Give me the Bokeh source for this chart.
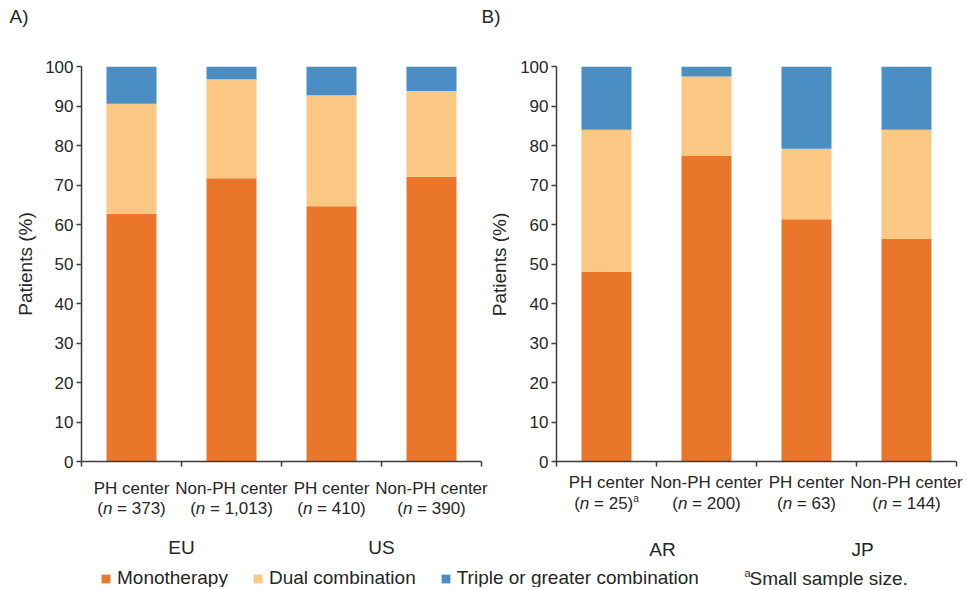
import math
from bokeh.plotting import figure
from bokeh.models import ColumnDataSource, Range1d, FixedTicker, Legend, LegendItem
from bokeh.layouts import row, column
from bokeh.core.properties import value, field
from bokeh.embed import file_html
from bokeh.resources import INLINE

# ---------------- data ----------------
series_names = ["Monotherapy", "Dual combination", "Triple or greater combination"]
stackers = ["mono", "dual", "triple"]

left_centers = ["PH center", "Non-PH center", "PH center", "Non-PH center"]
left_n = ["373", "1,013", "410", "390"]
left_notes = ["", "", "", ""]
left_regions = ["EU", "US"]
left_mono = [62.7, 71.7, 64.6, 72.1]
left_dual = [27.9, 25.1, 28.1, 21.7]
left_triple = [9.4, 3.2, 7.3, 6.2]

right_centers = ["PH center", "Non-PH center", "PH center", "Non-PH center"]
right_n = ["25", "200", "63", "144"]
right_notes = ["a", "", "", ""]
right_regions = ["AR", "JP"]
right_mono = [48.0, 77.5, 61.3, 56.3]
right_dual = [36.0, 20.0, 17.9, 27.7]
right_triple = [16.0, 2.5, 20.8, 16.0]

panel_tags = ["A)", "B)"]
y_ticks = list(range(0, 101, 10))
y_label = "Patients (%)"
footnote_mark = "a"
footnote_text = "Small sample size."

# ---------------- style / layout (screen pixels) ----------------
COLORS = ["#E9762B", "#FAC882", "#4B8EC3"]
FONT = "Liberation Sans"
TXT = "#262626"
AXIS = "#3c3c3c"
O = 1                      # page origin of the layout
X_END = 965                # right edge of the layout
TAG_Y1 = 31                # bottom of the tag strip
TOP_Y1 = 475               # bottom of the bar panels
TXT_Y1 = 560               # bottom of the category-label strip
LEG_Y1 = 588               # bottom of the legend strip
SPLIT = 489                # left / right column split
L_YLAB_X1 = 40
R_YLAB_X1 = 510
L_FRAME = (82, 67)         # left frame left, top
R_FRAME = (557, 62)        # right frame left, top
FRAME = 400
PX_PER_CAT = 100.0

CW = {' ': 278, '(': 333, ')': 333, '=': 584, ',': 278, 'n': 556, 'a': 556}
for d in "0123456789":
    CW[d] = 556


def text_w(s, size):
    return sum(CW.get(ch, 556) for ch in s) * size / 1000.0


def strip(x0, x1, y0, y1, xr=None):
    f = figure(width=x1 - x0, height=y1 - y0,
               x_range=xr if xr is not None else Range1d(x0, x1),
               y_range=Range1d(y1, y0),
               x_axis_type=None, y_axis_type=None, output_backend="svg",
               toolbar_location=None, title=None, min_border=0)
    f.outline_line_color = None
    f.background_fill_color = "white"
    f.border_fill_color = "white"
    return f


def bar_panel(mono, dual, triple, x0, x1, frame_left, frame_top):
    k = len(mono)
    src = ColumnDataSource(dict(x=[i + 0.5 for i in range(k)], mono=mono, dual=dual, triple=triple))
    bl = frame_left - x0
    br = (x1 - x0) - bl - FRAME
    bt = frame_top - TAG_Y1
    bb = (TOP_Y1 - TAG_Y1) - bt - FRAME
    p = figure(width=x1 - x0, height=TOP_Y1 - TAG_Y1, x_range=Range1d(0, k), y_range=Range1d(0, 100),
               output_backend="svg", toolbar_location=None, title=None,
               min_border_left=bl, min_border_right=br, min_border_top=bt, min_border_bottom=bb)
    p.vbar_stack(stackers, x="x", width=0.5, source=src, fill_color=COLORS, line_color=None)
    p.grid.visible = False
    p.outline_line_color = None
    p.background_fill_color = "white"
    p.border_fill_color = "white"

    ya = p.yaxis[0]
    ya.ticker = FixedTicker(ticks=y_ticks)
    ya.minor_tick_line_color = None
    ya.major_tick_out = 5
    ya.major_tick_in = 0
    ya.axis_line_color = AXIS
    ya.axis_line_width = 1.5
    ya.major_tick_line_color = AXIS
    ya.major_tick_line_width = 1.5
    ya.major_label_text_font = FONT
    ya.major_label_text_font_size = "17px"
    ya.major_label_text_color = TXT
    ya.major_label_standoff = 3

    xa = p.xaxis[0]
    xt = list(range(k + 1))
    xa.ticker = FixedTicker(ticks=xt)
    xa.major_label_overrides = {t: "" for t in xt}
    xa.major_label_text_font_size = "1px"
    xa.major_label_standoff = 0
    xa.minor_tick_line_color = None
    xa.major_tick_out = 5
    xa.major_tick_in = 0
    xa.axis_line_color = AXIS
    xa.axis_line_width = 1.5
    xa.major_tick_line_color = AXIS
    xa.major_tick_line_width = 1.5
    return p, src


def label_strip(centers, ns, notes, regions, x0, x1, frame_left, y_l1, y_l2, y_reg, reg_dx):
    xr = Range1d((x0 - frame_left) / PX_PER_CAT, (x1 - frame_left) / PX_PER_CAT)
    f = strip(x0, x1, TOP_Y1, TXT_Y1, xr=xr)
    d = dict(x=[], dx=[], y=[], text=[], style=[], size=[], align=[])

    def add(x, dx, y, t, st, sz, al):
        d["x"].append(x); d["dx"].append(dx); d["y"].append(y); d["text"].append(t)
        d["style"].append(st); d["size"].append(sz); d["align"].append(al)

    for i in range(len(centers)):
        xc = i + 0.5
        add(xc, 0, y_l1, centers[i], "normal", "17px", "center")
        segs = [("(", "normal", 17, 0), ("n", "italic", 17, 0), (" = " + ns[i] + ")", "normal", 17, 0)]
        if notes[i]:
            segs.append((notes[i], "normal", 10, 5))
        total = sum(text_w(s, sz) for s, _, sz, _ in segs)
        cur = -total / 2.0
        for s, st, sz, rise in segs:
            core = s.strip(" ")
            lead = len(s) - len(s.lstrip(" "))
            cur += text_w(" " * lead, sz)
            add(xc, cur, y_l2 - rise, core, st, f"{sz}px", "left")
            cur += text_w(s, sz) - text_w(" " * lead, sz)
    for j, r in enumerate(regions):
        add(2 * j + 1, reg_dx, y_reg, r, "normal", "19px", "center")

    f.text(x="x", y="y", text="text", x_offset="dx", source=ColumnDataSource(d),
           text_font=value(FONT), text_font_size=field("size"), text_font_style=field("style"),
           text_align=field("align"), text_baseline="middle", text_color=TXT)
    return f


# ---- tag strip ----
tags = strip(O, X_END, O, TAG_Y1)
tags.text(x=[10, 482], y=[16.5, 16.5], text=panel_tags, text_font=value(FONT),
          text_font_size="19px", text_align="left", text_baseline="middle", text_color=TXT)

# ---- y label strips ----
ylab_l = strip(O, L_YLAB_X1, TAG_Y1, TOP_Y1)
ylab_l.text(x=[26], y=[253], text=[y_label], angle=math.pi / 2, text_font=value(FONT),
            text_font_size="19px", text_align="center", text_baseline="middle", text_color=TXT)
ylab_r = strip(SPLIT, R_YLAB_X1, TAG_Y1, TOP_Y1)
ylab_r.text(x=[499.5], y=[253.5], text=[y_label], angle=math.pi / 2, text_font=value(FONT),
            text_font_size="19px", text_align="center", text_baseline="middle", text_color=TXT)

# ---- bar panels ----
left, src_left = bar_panel(left_mono, left_dual, left_triple, L_YLAB_X1, SPLIT, *L_FRAME)
right, src_right = bar_panel(right_mono, right_dual, right_triple, R_YLAB_X1, X_END, *R_FRAME)

# ---- category label strips ----
lab_l = label_strip(left_centers, left_n, left_notes, left_regions, O, SPLIT, L_FRAME[0],
                    489, 509, 548.3, 0)
lab_r = label_strip(right_centers, right_n, right_notes, right_regions, SPLIT, X_END, R_FRAME[0],
                    482.5, 503.5, 549.7, 6)

# ---- legend strip: swatch-only proxies (one NaN row, nothing is drawn) ----
lf = strip(O, X_END, TXT_Y1, LEG_Y1)
nan = float("nan")
proxy_src = ColumnDataSource(dict(x=[nan], mono=[nan], dual=[nan], triple=[nan]))
rs = lf.vbar_stack(stackers, x="x", width=0.5, source=proxy_src, fill_color=COLORS, line_color=None)
legend = Legend(items=[LegendItem(label=n, renderers=[r]) for n, r in zip(series_names, rs)],
                orientation="horizontal", location=(100, -2),
                glyph_width=11, glyph_height=11, label_standoff=6, spacing=24,
                padding=0, margin=0, border_line_color=None, background_fill_alpha=0,
                label_height=18, label_width=0,
                label_text_font=FONT, label_text_font_size="19px", label_text_color=TXT)
lf.add_layout(legend, "center")
foot_src = ColumnDataSource(dict(x=[745, 750], y=[573.5, 578.5],
                                 text=[footnote_mark, footnote_text], sz=["11px", "19px"]))
lf.text(x="x", y="y", text="text", source=foot_src, text_font=value(FONT),
        text_font_size=field("sz"), text_align="left", text_baseline="middle", text_color=TXT)

layout = column(tags,
                row(ylab_l, left, ylab_r, right),
                row(lab_l, lab_r),
                lf)
open("out.html", "w").write(file_html(layout, INLINE))
